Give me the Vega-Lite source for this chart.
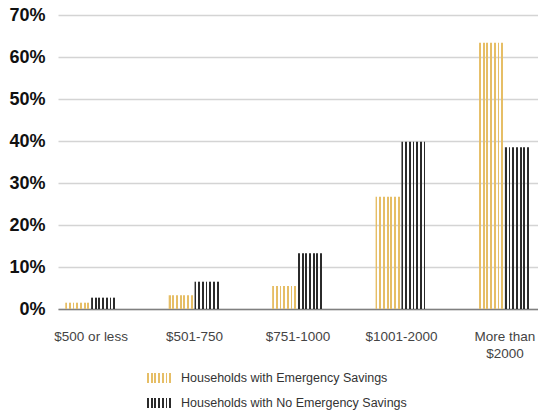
{
  "$schema": "https://vega.github.io/schema/vega-lite/v6.json",
  "width": 480,
  "height": 294,
  "autosize": {"type": "none"},
  "padding": {"left": 58, "top": 15, "right": 0, "bottom": 101},
  "background": "white",
  "config": {
    "view": {"stroke": null},
    "font": "Liberation Sans"
  },
  "data": {
    "values": [
      {"cat": "$500 or less", "series": "Households with Emergency Savings", "value": 0.015},
      {"cat": "$500 or less", "series": "Households with No Emergency Savings", "value": 0.027},
      {"cat": "$501-750", "series": "Households with Emergency Savings", "value": 0.033},
      {"cat": "$501-750", "series": "Households with No Emergency Savings", "value": 0.065},
      {"cat": "$751-1000", "series": "Households with Emergency Savings", "value": 0.055},
      {"cat": "$751-1000", "series": "Households with No Emergency Savings", "value": 0.133},
      {"cat": "$1001-2000", "series": "Households with Emergency Savings", "value": 0.267},
      {"cat": "$1001-2000", "series": "Households with No Emergency Savings", "value": 0.398},
      {"cat": "More than $2000", "series": "Households with Emergency Savings", "value": 0.634},
      {"cat": "More than $2000", "series": "Households with No Emergency Savings", "value": 0.385}
    ]
  },
  "mark": {"type": "bar", "strokeWidth": 0},
  "encoding": {
    "x": {
      "field": "cat",
      "type": "nominal",
      "sort": null,
      "scale": {"paddingInner": 0.5, "paddingOuter": 0.07},
      "axis": {
        "title": null,
        "labelAngle": 0,
        "labelFontSize": 13.5,
        "labelColor": "#444444",
        "labelBaseline": "middle",
        "labelPadding": 27,
        "labelLineHeight": 17,
        "labelExpr": "datum.label == 'More than $2000' ? ['More than', '$2000'] : datum.label",
        "ticks": false,
        "domainColor": "#808080",
        "domainWidth": 1.5
      }
    },
    "xOffset": {"field": "series", "type": "nominal", "sort": ["Households with Emergency Savings", "Households with No Emergency Savings"]},
    "y": {
      "field": "value",
      "type": "quantitative",
      "scale": {"domain": [0, 0.7]},
      "axis": {
        "title": null,
        "format": ".0%",
        "values": [0, 0.1, 0.2, 0.3, 0.4, 0.5, 0.6, 0.7],
        "labelFontSize": 18,
        "labelFontWeight": "bold",
        "labelColor": "#111111",
        "labelPadding": 13,
        "ticks": false,
        "domain": false,
        "gridColor": "#d4d4d4",
        "gridWidth": 1.5
      }
    },
    "fill": {
      "field": "series",
      "type": "nominal",
      "scale": {
        "domain": ["Households with Emergency Savings", "Households with No Emergency Savings"],
        "range": [
          {"expr": "{gradient: 'linear', x1: 0, y1: 0, x2: 1, y2: 0, stops: [{offset: 0, color: '#e6be66'}, {offset: 0.0714, color: '#e6be66'}, {offset: 0.0714, color: 'rgba(255,255,255,0)'}, {offset: 0.1429, color: 'rgba(255,255,255,0)'}, {offset: 0.1429, color: '#e6be66'}, {offset: 0.2143, color: '#e6be66'}, {offset: 0.2143, color: 'rgba(255,255,255,0)'}, {offset: 0.2857, color: 'rgba(255,255,255,0)'}, {offset: 0.2857, color: '#e6be66'}, {offset: 0.3571, color: '#e6be66'}, {offset: 0.3571, color: 'rgba(255,255,255,0)'}, {offset: 0.4286, color: 'rgba(255,255,255,0)'}, {offset: 0.4286, color: '#e6be66'}, {offset: 0.5, color: '#e6be66'}, {offset: 0.5, color: 'rgba(255,255,255,0)'}, {offset: 0.5714, color: 'rgba(255,255,255,0)'}, {offset: 0.5714, color: '#e6be66'}, {offset: 0.6429, color: '#e6be66'}, {offset: 0.6429, color: 'rgba(255,255,255,0)'}, {offset: 0.7143, color: 'rgba(255,255,255,0)'}, {offset: 0.7143, color: '#e6be66'}, {offset: 0.7857, color: '#e6be66'}, {offset: 0.7857, color: 'rgba(255,255,255,0)'}, {offset: 0.8571, color: 'rgba(255,255,255,0)'}, {offset: 0.8571, color: '#e6be66'}, {offset: 0.9286, color: '#e6be66'}, {offset: 0.9286, color: 'rgba(255,255,255,0)'}, {offset: 1, color: 'rgba(255,255,255,0)'}]}"},
          {"expr": "{gradient: 'linear', x1: 0, y1: 0, x2: 1, y2: 0, stops: [{offset: 0, color: '#2b2b2b'}, {offset: 0.0714, color: '#2b2b2b'}, {offset: 0.0714, color: 'rgba(255,255,255,0)'}, {offset: 0.1429, color: 'rgba(255,255,255,0)'}, {offset: 0.1429, color: '#2b2b2b'}, {offset: 0.2143, color: '#2b2b2b'}, {offset: 0.2143, color: 'rgba(255,255,255,0)'}, {offset: 0.2857, color: 'rgba(255,255,255,0)'}, {offset: 0.2857, color: '#2b2b2b'}, {offset: 0.3571, color: '#2b2b2b'}, {offset: 0.3571, color: 'rgba(255,255,255,0)'}, {offset: 0.4286, color: 'rgba(255,255,255,0)'}, {offset: 0.4286, color: '#2b2b2b'}, {offset: 0.5, color: '#2b2b2b'}, {offset: 0.5, color: 'rgba(255,255,255,0)'}, {offset: 0.5714, color: 'rgba(255,255,255,0)'}, {offset: 0.5714, color: '#2b2b2b'}, {offset: 0.6429, color: '#2b2b2b'}, {offset: 0.6429, color: 'rgba(255,255,255,0)'}, {offset: 0.7143, color: 'rgba(255,255,255,0)'}, {offset: 0.7143, color: '#2b2b2b'}, {offset: 0.7857, color: '#2b2b2b'}, {offset: 0.7857, color: 'rgba(255,255,255,0)'}, {offset: 0.8571, color: 'rgba(255,255,255,0)'}, {offset: 0.8571, color: '#2b2b2b'}, {offset: 0.9286, color: '#2b2b2b'}, {offset: 0.9286, color: 'rgba(255,255,255,0)'}, {offset: 1, color: 'rgba(255,255,255,0)'}]}"}
        ]
      },
      "legend": {
        "title": null,
        "orient": "none",
        "legendX": 89,
        "legendY": 350,
        "direction": "vertical",
        "padding": 0,
        "rowPadding": 5,
        "symbolType": "M-1,-0.385L1,-0.385L1,0.385L-1,0.385Z",
        "symbolSize": 676,
        "symbolStrokeWidth": 0,
        "symbolOpacity": 1,
        "labelFontSize": 12.5,
        "labelColor": "#333333",
        "labelOffset": 8,
        "labelLimit": 400
      }
    }
  }
}
